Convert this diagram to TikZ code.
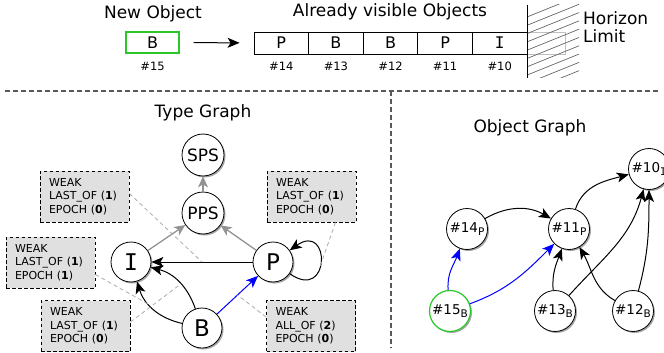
\documentclass[tikz,border=0pt]{standalone}
\usepackage{fontspec}
\setmainfont{DejaVu Sans}
\newfontfamily\serifmono{DejaVu Sans Mono}
\usetikzlibrary{arrows.meta,shadows,calc}
\newcommand{\ltrI}{{\serifmono I}}
\newcommand{\objlbl}[2]{\#{#1}\raisebox{-3pt}{\fontsize{10.5}{10.5}\selectfont #2}}
\definecolor{newgreen}{RGB}{40,200,40}
\definecolor{notefill}{RGB}{224,224,224}
\begin{document}
\begin{tikzpicture}[x=1pt,y=1pt,
  title/.style={font=\fontsize{17}{19}\selectfont, inner sep=0pt},
  cell/.style={draw, line width=0.8pt, minimum width=54.6pt, minimum height=22pt, inner sep=0pt, font=\fontsize{16}{18}\selectfont},
  idx/.style={font=\fontsize{11.5}{12}\selectfont, inner sep=0pt},
  arr/.style={-{Stealth[length=12pt,width=10pt,inset=3pt]}, line width=1pt},
  garr/.style={-{Stealth[length=11pt,width=10pt,inset=3pt]}, line width=1.3pt, draw=gray!85, color=gray!85},
  barr/.style={arr, draw=blue, color=blue},
  sep/.style={draw=black!65, line width=1.1pt, dash pattern=on 5pt off 3pt},
  ptr/.style={draw=gray!65, line width=0.8pt, dash pattern=on 4pt off 3pt},
  shad/.style={drop shadow={shadow xshift=1.5pt, shadow yshift=-1.5pt, fill=black, opacity=0.35}},
  tnode/.style={circle, draw, line width=0.8pt, fill=white, inner sep=0pt, minimum size=40pt, shad},
  onode/.style={circle, draw, line width=0.8pt, fill=white, inner sep=0pt, minimum size=41pt, shad, font=\fontsize{13.5}{13.5}\selectfont},
  note/.style={draw, fill=notefill, line width=0.8pt, dash pattern=on 3.5pt off 2.5pt,
    minimum width=89pt, minimum height=51pt, inner xsep=9pt, inner ysep=2pt, text width=71pt, align=left,
    font=\fontsize{11}{13.7}\selectfont}
]
\useasboundingbox (0,0) rectangle (664,-353);

% ---- queue of objects ----
\node[title] (tnew) at (153,-14) {New Object};
\node[title] (tvis) at (390,-12) {Already visible Objects};
\node[cell, draw=newgreen, line width=1.2pt, minimum width=53pt, minimum height=21pt] (nb) at (152.5,-42.5) {B};
\node[idx] (l15) at (152.5,-66) {\#15};

\draw[gray!50, line width=0.8pt] (499.7,-32) ++(27.3,0) -- ++(38,0) -- ++(0,-22) -- ++(-38,0);
\node[cell] (c14) at (281.3,-43) {P};
\node[cell] (c13) at (335.9,-43) {B};
\node[cell] (c12) at (390.5,-43) {B};
\node[cell] (c11) at (445.1,-43) {P};
\node[cell] (c10) at (499.7,-43) {\ltrI};
\node[idx] (l14) at (281.3,-66) {\#14};
\node[idx] (l13) at (335.9,-66) {\#13};
\node[idx] (l12) at (390.5,-66) {\#12};
\node[idx] (l11) at (445.1,-66) {\#11};
\node[idx] (l10) at (499.7,-66) {\#10};
\draw[arr, shorten <=14pt, shorten >=14pt] (nb) -- (c14);

% horizon limit wall
\begin{scope}
  \clip (527,-5) rectangle (579,-78);
  \foreach \y in {17,25.3,...,92} \draw[black!60, line width=0.7pt] (527,-\y) -- ++(52,21);
\end{scope}
\coordinate (htop) at (527,-5);
\coordinate (hbot) at (527,-78);
\draw[line width=1pt] (htop) -- (hbot);
\node[title, anchor=west] (th) at (583,-18) {Horizon};
\node[title, anchor=west] (tl) at (583,-36) {Limit};

% ---- separators ----
\coordinate (s1) at (5,-91);
\coordinate (s2) at (660,-91);
\coordinate (s3) at (391,-91);
\coordinate (s4) at (391,-348);
\draw[sep] (s1) -- (s2);
\draw[sep] (s3) -- (s4);

% ---- type graph ----
\node[title] (ttg) at (203,-113) {Type Graph};
\node[tnode, minimum size=42pt, font=\fontsize{17}{17}\selectfont] (SPS) at (203,-155) {SPS};
\node[tnode, minimum size=42pt, font=\fontsize{17}{17}\selectfont] (PPS) at (203,-213) {PPS};
\node[tnode, font=\fontsize{23}{23}\selectfont] (I) at (131,-262) {\ltrI};
\node[tnode, font=\fontsize{23}{23}\selectfont] (P) at (273,-262) {P};
\node[tnode, font=\fontsize{23}{23}\selectfont] (B) at (202,-328) {B};

\draw[garr] (PPS) -- (SPS);
\draw[garr] (I) -- (PPS);
\draw[garr] (P) -- (PPS);
\draw[arr] (P) -- coordinate[pos=0.5] (ePI) (I);
\draw[arr] (B) to[bend left=30] coordinate[pos=0.6] (eBIo) (I);
\draw[arr] (B) to[bend right=28] coordinate[pos=0.45] (eBIi) (I);
\draw[barr] (B) -- coordinate[pos=0.5] (eBP) (P);
\draw[arr] (P) to[out=-35,in=35,looseness=5.5] coordinate[pos=0.45] (ePP) (P);

\node[note] (n1) at (84.5,-196.5) {WEAK\\LAST\_OF (\textbf{1})\\EPOCH (\textbf{0})};
\node[note] (n2) at (50.5,-262.5) {WEAK\\LAST\_OF (\textbf{1})\\EPOCH (\textbf{1})};
\node[note] (n3) at (311.5,-196.5) {WEAK\\LAST\_OF (\textbf{1})\\EPOCH (\textbf{0})};
\node[note] (n4) at (85.5,-326) {WEAK\\LAST\_OF (\textbf{1})\\EPOCH (\textbf{0})};
\node[note] (n5) at (311,-326) {WEAK\\ALL\_OF (\textbf{2})\\EPOCH (\textbf{0})};

\draw[ptr] ([yshift=3pt]n1.east) -- (ePI);
\draw[ptr] ([yshift=-12pt]n2.east) -- (eBIo);
\draw[ptr] ([yshift=4pt]n4.east) -- (eBIi);
\draw[ptr] ([xshift=24pt]n3.south) -- (ePP);
\draw[ptr] ([yshift=9pt]n5.west) -- (eBP);

% ---- object graph ----
\node[title] (tog) at (530,-128) {Object Graph};
\node[onode] (o10) at (649,-169) {\objlbl{10}{\ltrI}};
\node[onode] (o14) at (467,-229) {\objlbl{14}{P}};
\node[onode] (o11) at (569,-229) {\objlbl{11}{P}};
\node[onode, draw=newgreen, line width=1.2pt] (o15) at (450,-311) {\objlbl{15}{B}};
\node[onode] (o13) at (555,-311) {\objlbl{13}{B}};
\node[onode] (o12) at (633,-311) {\objlbl{12}{B}};

\draw[arr] (o14) to[bend left=30] (o11);
\draw[arr] (o11) to[out=72,in=195] (o10);
\draw[arr] (o13) to[out=48,in=-105] (o10);
\draw[arr] (o12) to[out=75,in=-90] (o10);
\draw[arr] (o13) to[out=95,in=-110] (o11);
\draw[arr] (o12) to[out=150,in=-60] (o11);
\draw[barr] (o15) to[out=95,in=-110] (o14);
\draw[barr] (o15) to[out=20,in=-135] (o11);
\end{tikzpicture}
\end{document}
